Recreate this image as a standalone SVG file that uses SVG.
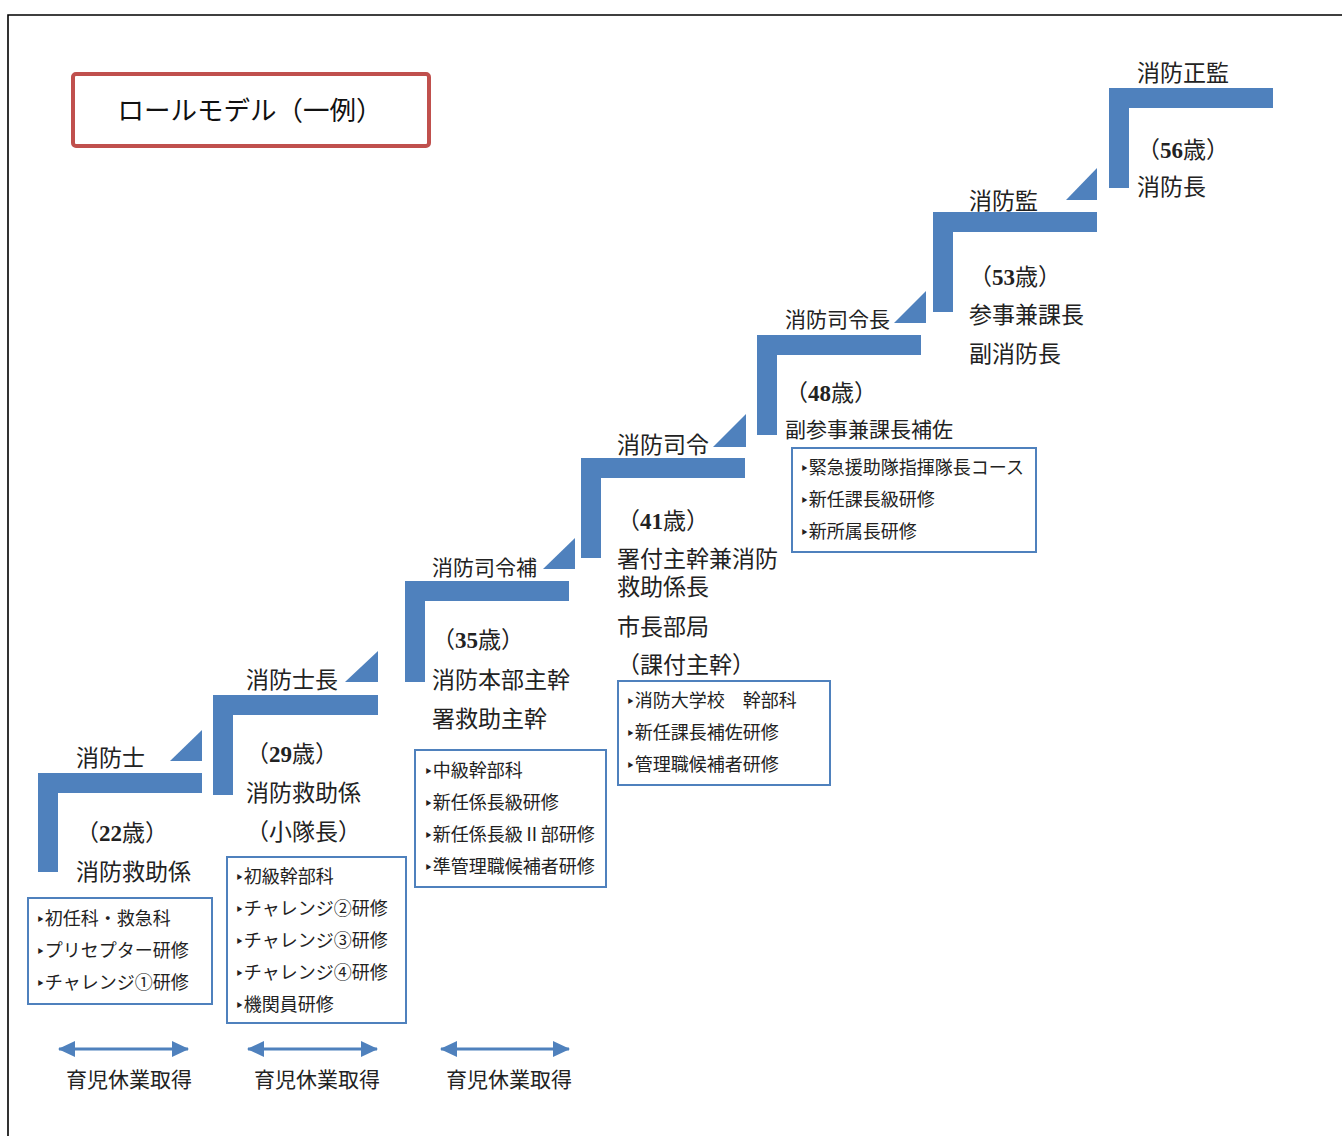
<svg xmlns="http://www.w3.org/2000/svg" width="1342" height="1136" viewBox="0 0 1342 1136">
<style>
.bar{fill:#4F81BD}
.lbl{font-family:"Noto Sans CJK JP","Noto Sans CJK SC",sans-serif;font-size:23px;fill:#222}
.sm{font-size:21px}
.num{font-family:"Liberation Serif",serif;font-weight:bold}
.box{fill:#fff;stroke:#4F81BD;stroke-width:2}
.bt{font-family:"Noto Sans CJK JP","Noto Sans CJK SC",sans-serif;font-size:18px;fill:#222}
.b{font-family:"DejaVu Sans",sans-serif;font-size:15px}
.arr{stroke:#4F81BD;stroke-width:3;fill:none;marker-start:url(#ah);marker-end:url(#ah)}
</style>
<defs>
<marker id="ah" markerUnits="userSpaceOnUse" viewBox="0 0 17 16" markerWidth="17" markerHeight="16" refX="16" refY="8" orient="auto-start-reverse">
<path d="M0,0 L17,8 L0,16 z" fill="#4F81BD"/>
</marker>
</defs>
<rect width="1342" height="1136" fill="#fff"/>
<path d="M8,1136 V15 H1342" fill="none" stroke="#000" stroke-width="1.6"/>

<g id="title">
<rect x="73" y="74" width="356" height="72" rx="3" fill="#fff" stroke="#C0504D" stroke-width="4"/>
<text x="250" y="120" text-anchor="middle" font-family="'Noto Sans CJK JP',sans-serif" font-size="26.5" fill="#111">ロールモデル（一例）</text>
</g>

<g id="step1">
<path class="bar" d="M38,773 H202 V793 H58 V872 H38 Z"/>
<path class="bar" d="M170,761 L202,730 V761 Z"/>
<text class="lbl" x="76" y="766">消防士</text>
<text class="lbl" x="76" y="841">（<tspan class="num">22</tspan>歳）</text>
<text class="lbl" x="76" y="880">消防救助係</text>
<rect class="box" x="28" y="898" width="184" height="106"/>
<text class="bt" x="36" y="925"><tspan class="b">‣</tspan>初任科・救急科</text>
<text class="bt" x="36" y="957"><tspan class="b">‣</tspan>プリセプター研修</text>
<text class="bt" x="36" y="989"><tspan class="b">‣</tspan>チャレンジ①研修</text>
</g>

<g id="step2">
<path class="bar" d="M213,695 H378 V715 H233 V795 H213 Z"/>
<path class="bar" d="M345,682 L378,651 V682 Z"/>
<text class="lbl" x="246" y="688">消防士長</text>
<text class="lbl" x="246" y="762">（<tspan class="num">29</tspan>歳）</text>
<text class="lbl" x="246" y="801">消防救助係</text>
<text class="lbl" x="246" y="840">（小隊長）</text>
<rect class="box" x="227" y="857" width="179" height="166"/>
<text class="bt" x="235" y="883"><tspan class="b">‣</tspan>初級幹部科</text>
<text class="bt" x="235" y="915"><tspan class="b">‣</tspan>チャレンジ②研修</text>
<text class="bt" x="235" y="947"><tspan class="b">‣</tspan>チャレンジ③研修</text>
<text class="bt" x="235" y="979"><tspan class="b">‣</tspan>チャレンジ④研修</text>
<text class="bt" x="235" y="1011"><tspan class="b">‣</tspan>機関員研修</text>
</g>

<g id="step3">
<path class="bar" d="M405,581 H569 V601 H425 V682 H405 Z"/>
<path class="bar" d="M543,569 L575,538 V569 Z"/>
<text class="lbl sm" x="432" y="575">消防司令補</text>
<text class="lbl" x="432" y="648">（<tspan class="num">35</tspan>歳）</text>
<text class="lbl" x="432" y="688">消防本部主幹</text>
<text class="lbl" x="432" y="727">署救助主幹</text>
<rect class="box" x="415" y="750" width="191" height="137"/>
<text class="bt" x="424" y="777"><tspan class="b">‣</tspan>中級幹部科</text>
<text class="bt" x="424" y="809"><tspan class="b">‣</tspan>新任係長級研修</text>
<text class="bt" x="424" y="841"><tspan class="b">‣</tspan>新任係長級Ⅱ部研修</text>
<text class="bt" x="424" y="873"><tspan class="b">‣</tspan>準管理職候補者研修</text>
</g>

<g id="step4">
<path class="bar" d="M581,458 H745 V478 H601 V558 H581 Z"/>
<path class="bar" d="M713,447 L746,414 V447 Z"/>
<text class="lbl" x="617" y="453">消防司令</text>
<text class="lbl" x="617" y="529">（<tspan class="num">41</tspan>歳）</text>
<text class="lbl" x="617" y="567">署付主幹兼消防</text>
<text class="lbl" x="617" y="595">救助係長</text>
<text class="lbl" x="617" y="635">市長部局</text>
<text class="lbl" x="617" y="673">（課付主幹）</text>
<rect class="box" x="618" y="681" width="212" height="104"/>
<text class="bt" x="626" y="707"><tspan class="b">‣</tspan>消防大学校　幹部科</text>
<text class="bt" x="626" y="739"><tspan class="b">‣</tspan>新任課長補佐研修</text>
<text class="bt" x="626" y="771"><tspan class="b">‣</tspan>管理職候補者研修</text>
</g>

<g id="step5">
<path class="bar" d="M757,335 H921 V355 H777 V435 H757 Z"/>
<path class="bar" d="M894,323 L926,291 V323 Z"/>
<text class="lbl sm" x="785" y="327">消防司令長</text>
<text class="lbl" x="785" y="401">（<tspan class="num">48</tspan>歳）</text>
<text class="lbl sm" x="785" y="437">副参事兼課長補佐</text>
<rect class="box" x="792" y="448" width="244" height="104"/>
<text class="bt" x="800" y="474"><tspan class="b">‣</tspan>緊急援助隊指揮隊長コース</text>
<text class="bt" x="800" y="506"><tspan class="b">‣</tspan>新任課長級研修</text>
<text class="bt" x="800" y="538"><tspan class="b">‣</tspan>新所属長研修</text>
</g>

<g id="step6">
<path class="bar" d="M933,212 H1097 V232 H953 V312 H933 Z"/>
<path class="bar" d="M1066,200 L1097,168 V200 Z"/>
<text class="lbl" x="969" y="209">消防監</text>
<text class="lbl" x="969" y="285">（<tspan class="num">53</tspan>歳）</text>
<text class="lbl" x="969" y="323">参事兼課長</text>
<text class="lbl" x="969" y="362">副消防長</text>
</g>

<g id="step7">
<path class="bar" d="M1109,88 H1273 V108 H1129 V188 H1109 Z"/>
<text class="lbl" x="1137" y="81">消防正監</text>
<text class="lbl" x="1137" y="158">（<tspan class="num">56</tspan>歳）</text>
<text class="lbl" x="1137" y="195">消防長</text>
</g>

<g id="connectors">
<line class="arr" x1="59" y1="1049" x2="188" y2="1049"/>
<line class="arr" x1="248" y1="1049" x2="377" y2="1049"/>
<line class="arr" x1="441" y1="1049" x2="569" y2="1049"/>
</g>

<g id="leave">
<text class="lbl sm" x="66" y="1087">育児休業取得</text>
<text class="lbl sm" x="254" y="1087">育児休業取得</text>
<text class="lbl sm" x="446" y="1087">育児休業取得</text>
</g>
</svg>
